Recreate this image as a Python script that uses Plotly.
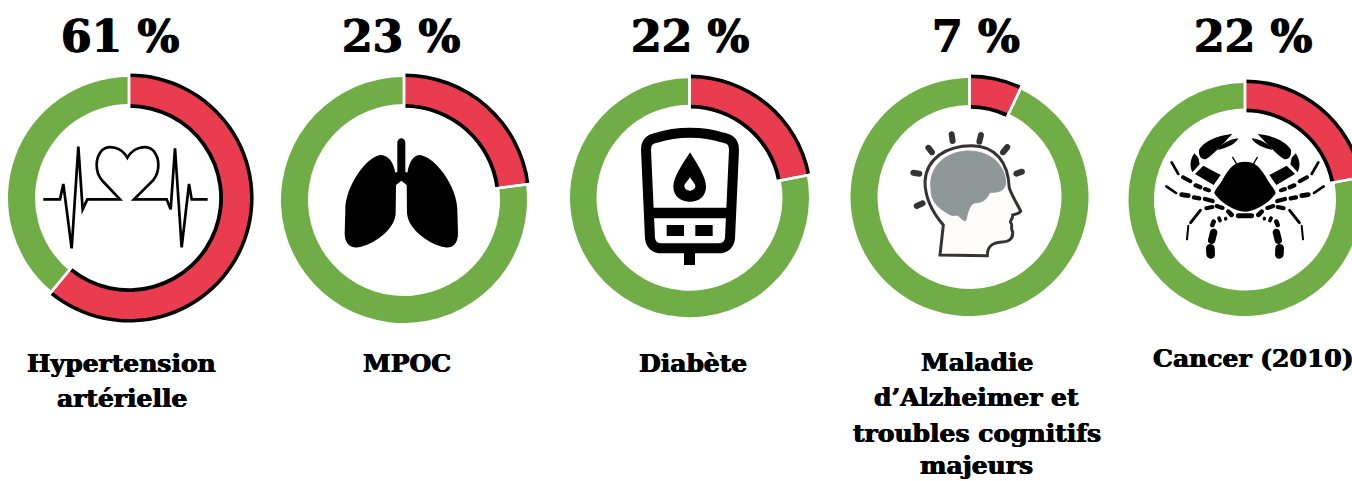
import re, math
import plotly.graph_objects as go

# ---- data ----
conditions = ["Hypertension artérielle", "MPOC", "Diabète",
              "Maladie d’Alzheimer et troubles cognitifs majeurs", "Cancer (2010)"]
percent = [61, 23, 22, 7, 22]
label_lines = [["Hypertension", "artérielle"], ["MPOC"], ["Diabète"],
               ["Maladie", "d’Alzheimer et", "troubles cognitifs", "majeurs"], ["Cancer (2010)"]]

# ---- layout constants (px) ----
W, H = 1380, 481
centers = [(129, 198, 121, 94), (404, 200, 123, 96), (689.5, 197.7, 119.5, 93),
           (969.5, 197, 119, 92), (1245, 199.5, 116.5, 91)]
title_x = [120, 401, 690, 975.5, 1253]
label_x = [121.7, 406.7, 693, 977, 1253]
label_y = [[363, 398], [363], [363.5], [362, 397, 433, 465.5], [358]]
RED, GREEN, TR = "#E93D4F", "#70AD47", "rgba(0,0,0,0)"


def px(x): return x / W
def py(y): return 1 - y / H


def P(cmd, ox=0, oy=0, s=1 / 3, mirror=None):
    """Convert an icon outline given in local units to paper coordinates."""
    toks = re.findall(r"[MLCZ]|-?\d+\.?\d*", cmd)
    out, i = [], 0
    for t in toks:
        if t in "MLCZ":
            out.append(t)
        else:
            v = float(t)
            if i % 2 == 0:
                if mirror is not None:
                    v = 2 * mirror - v
                out.append(f"{px(ox + v * s):.5f}")
            else:
                out.append(f"{py(oy + v * s):.5f}")
            i += 1
    return " ".join(out)


def capsule(x0, y0, x1, y1, w):
    dx, dy = x1 - x0, y1 - y0
    L = math.hypot(dx, dy) or 1
    nx, ny = -dy / L * w / 2, dx / L * w / 2
    ex, ey = dx / L * w * 0.66, dy / L * w * 0.66
    return (f"M {x0+nx:.1f} {y0+ny:.1f} L {x1+nx:.1f} {y1+ny:.1f} "
            f"C {x1+nx+ex:.1f} {y1+ny+ey:.1f} {x1-nx+ex:.1f} {y1-ny+ey:.1f} {x1-nx:.1f} {y1-ny:.1f} "
            f"L {x0-nx:.1f} {y0-ny:.1f} "
            f"C {x0-nx-ex:.1f} {y0-ny-ey:.1f} {x0+nx-ex:.1f} {y0+ny-ey:.1f} {x0+nx:.1f} {y0+ny:.1f} Z")


shapes = []


def add(path, fill=None, line=None, width=0):
    shapes.append(dict(type="path", xref="paper", yref="paper", path=path, layer="above",
                       fillcolor=fill or TR,
                       line=dict(color=line or TR, width=width)))


# ---- ECG / heart icon ----
add(P("M 130 598 L 180 598 L 190 552 L 215 745 L 235 440 L 248 628 L 262 598 L 360 598 "
      "L 305 540 C 285 515 285 475 305 452 C 325 432 365 442 382 473 "
      "C 400 442 440 432 460 452 C 480 475 480 515 460 540 L 402 598 "
      "L 500 598 L 512 628 L 525 445 L 545 742 L 567 552 L 575 598 L 623 598"),
    line="#000", width=2.7)

# ---- lungs icon ----
add(P("M 196 128 C 190 95 175 75 150 75 C 110 80 45 170 46 240 L 44 310 C 44 345 65 355 85 352 "
      "C 130 345 195 300 197 250 L 198 165 L 214 152 L 230 165 L 231 250 C 235 300 300 345 345 352 "
      "C 365 355 384 345 384 310 L 382 240 C 382 170 315 80 270 75 C 250 75 238 95 232 128 "
      "L 226 125 L 226 38 C 226 20 202 20 202 38 L 202 125 Z", 330, 130), fill="#000")

# ---- glucose meter icon ----
mx, my = 560, 70
add(P("M 258 240 C 258 215 270 208 290 203 C 350 183 430 183 490 203 C 510 208 522 215 522 240 "
      "L 510 505 C 508 525 495 535 475 535 L 305 535 C 285 535 272 525 270 505 Z", mx, my),
    line="#000", width=10)
add(P("M 265 413 L 515 413 L 515 445 L 265 445 Z", mx, my), fill="#000")
add(P("M 320 465 L 372 465 L 372 498 L 320 498 Z", mx, my), fill="#000")
add(P("M 406 465 L 458 465 L 458 498 L 406 498 Z", mx, my), fill="#000")
add(P("M 372 540 L 405 540 L 405 585 L 372 585 Z", mx, my), fill="#000")
add(P("M 390 247 C 370 280 340 320 340 350 C 340 380 365 395 390 395 C 415 395 438 380 438 350 "
      "C 438 320 410 280 390 247 Z", mx, my), fill="#000")
add(P("M 390 322 C 382 335 373 342 373 348 C 373 356 382 362 390 362 C 398 362 406 356 406 348 "
      "C 406 342 398 335 390 322 Z", mx, my), fill="#fff")

# ---- head / brain icon ----
hx, hy = 900, 125
add(P("M 120 390 L 130 300 C 100 265 75 220 75 170 C 78 100 140 62 215 62 C 285 62 325 110 328 190 "
      "C 335 210 350 235 362 258 C 360 265 345 268 338 270 C 340 280 328 288 332 293 "
      "C 340 300 330 310 338 320 C 340 345 325 350 300 352 C 270 355 262 370 262 392 Z", hx, hy),
    fill="#FDFCFA", line="#333", width=3)
add(P("M 93 190 C 86 130 130 83 200 78 C 270 76 317 120 317 175 C 312 197 300 202 270 202 "
      "C 260 217 258 232 222 234 C 207 242 202 267 197 287 C 185 287 180 272 170 270 "
      "C 155 274 145 267 135 260 C 115 247 93 232 93 190 Z", hx, hy), fill="#8F9899", line="#8F9899", width=1)
for r in [(155, 28, 158, 48), (243, 30, 238, 50), (85, 68, 96, 82), (322, 66, 309, 82),
          (40, 143, 58, 146), (366, 140, 349, 146), (50, 243, 68, 235)]:
    add(P(capsule(*r, 18), hx, hy), fill="#333")

# ---- crab icon ----
cx0, cy0 = 1155, 125
add(P("M 270 110 C 240 110 225 125 205 160 C 195 180 178 195 178 205 C 195 232 240 260 270 260 "
      "C 300 260 345 232 362 205 C 362 195 345 180 335 160 C 315 125 300 110 270 110 Z", cx0, cy0), fill="#000")
crab_parts = [
    "M 232 27 C 190 30 145 50 132 75 C 130 95 140 103 152 103 C 175 90 200 60 232 27 Z",
    "M 250 40 C 225 42 195 58 188 75 C 212 70 242 58 250 40 Z",
    "M 118 85 C 104 105 104 125 112 142 L 134 118 L 130 98 Z",
    "M 145 122 L 197 150 L 176 180 L 120 147 Z",
]
crab_caps = [
    (233, 97, 248, 122, 4), (50, 112, 70, 147, 8), (84, 157, 106, 169, 12), (122, 181, 136, 187, 13),
    (150, 192, 162, 196, 12), (34, 184, 63, 204, 8), (80, 209, 100, 212, 14), (117, 217, 133, 220, 13),
    (150, 222, 173, 228, 13), (154, 250, 172, 246, 12), (185, 243, 203, 249, 12), (220, 260, 230, 270, 14),
    (136, 256, 107, 293, 9), (100, 302, 96, 343, 6), (212, 280, 212, 282, 10), (192, 279, 195, 287, 11),
    (176, 290, 172, 300, 14), (176, 322, 170, 346, 22), (166, 370, 167, 388, 26),
]
for part in crab_parts:
    add(P(part, cx0, cy0), fill="#000")
    add(P(part, cx0, cy0, mirror=270), fill="#000")
for c in crab_caps:
    add(P(capsule(*c), cx0, cy0), fill="#000")
    add(P(capsule(*c), cx0, cy0, mirror=270), fill="#000")
add(P(capsule(250, 272, 290, 272, 15), cx0, cy0), fill="#000")

# ---- donuts ----
fig = go.Figure()


def donut(name, value, cx, cy, R, r, colors, line=None):
    fig.add_trace(go.Pie(
        values=[value, 100 - value], labels=["Touchés", "Autres"], name=name,
        sort=False, direction="clockwise", rotation=0, hole=r / R, textinfo="none", showlegend=False,
        hoverinfo="skip", marker=dict(colors=colors, line=dict(color=line or TR, width=2.5 if line else 0)),
        domain=dict(x=[px(cx - R), px(cx + R)], y=[py(cy + R), py(cy - R)]),
    ))


for name, value, (cx, cy, R, r) in zip(conditions, percent, centers):
    donut(name, value, cx, cy, R + 3.6, r - 3.8, ["#000", TR])
    donut(name, value, cx, cy, R, r, [RED, GREEN])
    donut(name, value, cx, cy, R + 6, r - 6, [TR, TR], line="#fff")

# ---- texts ----
ann = []
for v, x in zip(percent, title_x):
    ann.append(dict(text=f"<b>{v} %</b>", x=px(x), y=py(37), xref="paper", yref="paper", showarrow=False,
                    xanchor="center", yanchor="middle",
                    font=dict(family="DejaVu Serif", size=44, color="#000",
                              shadow="0.7px 0 0 #000, -0.7px 0 0 #000")))
for lines, x, ys in zip(label_lines, label_x, label_y):
    for t, y in zip(lines, ys):
        ann.append(dict(text=f"<b>{t}</b>", x=px(x), y=py(y), xref="paper", yref="paper", showarrow=False,
                        xanchor="center", yanchor="middle",
                        font=dict(family="DejaVu Serif", size=25, color="#000",
                                  shadow="0.5px 0 0 #000, -0.5px 0 0 #000")))

fig.update_layout(width=W, height=H, margin=dict(l=0, r=0, t=0, b=0), autosize=False,
                  paper_bgcolor="#fff", plot_bgcolor="#fff", shapes=shapes, annotations=ann)
fig.write_html("out.html", config={"displayModeBar": False},
               post_script="document.documentElement.style.overflow='hidden';"
                           "document.body.style.overflow='hidden';document.body.style.margin='0';")
